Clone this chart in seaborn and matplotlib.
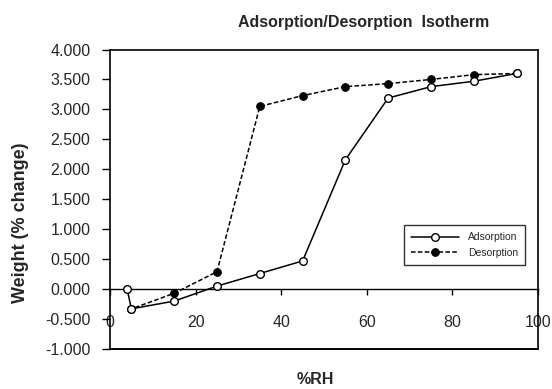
import matplotlib
matplotlib.use("Agg")
import matplotlib.pyplot as plt
import seaborn as sns
import pandas as pd
from matplotlib.ticker import FormatStrFormatter

# Moisture sorption data: %RH vs weight change
ads_rh = [4, 5, 15, 25, 35, 45, 55, 65, 75, 85, 95]
ads_wt = [0.00, -0.33, -0.20, 0.05, 0.26, 0.47, 2.16, 3.19, 3.38, 3.47, 3.60]
des_rh = [95, 85, 75, 65, 55, 45, 35, 25, 15, 5]
des_wt = [3.60, 3.58, 3.50, 3.43, 3.38, 3.23, 3.05, 0.29, -0.07, -0.33]

x_ticks = [0, 20, 40, 60, 80, 100]
y_ticks = [-1.0, -0.5, 0.0, 0.5, 1.0, 1.5, 2.0, 2.5, 3.0, 3.5, 4.0]

sns.set_style("white")
plt.rcParams["font.family"] = ["Liberation Sans", "DejaVu Sans"]
plt.rcParams["axes.unicode_minus"] = False

ads = pd.DataFrame({"rh": ads_rh, "wt": ads_wt})
des = pd.DataFrame({"rh": des_rh, "wt": des_wt})

fig = plt.figure(figsize=(5.52, 3.89), dpi=100)
ax = fig.add_axes([110 / 552, 1 - 349 / 389, 428 / 552, 299.5 / 389])

sns.lineplot(data=ads, x="rh", y="wt", sort=False, ax=ax, color="black",
             lw=1.1, marker="o", markersize=5.5, markerfacecolor="white",
             markeredgecolor="black", markeredgewidth=1.0,
             label="Adsorption", zorder=4)
sns.lineplot(data=des, x="rh", y="wt", sort=False, ax=ax, color="black",
             lw=1.1, marker="o", markersize=5.5, markerfacecolor="black",
             markeredgecolor="black", dashes=False, label="Desorption",
             zorder=3)
ax.lines[1].set_linestyle((0, (3, 1.5)))

ax.set_xlim(0, 100)
ax.set_ylim(-1, 4)
ax.set_xticks(x_ticks)
ax.set_yticks(y_ticks)
ax.yaxis.set_major_formatter(FormatStrFormatter("%.3f"))

# x axis runs through zero; the frame is closed at the bottom
ax.spines["bottom"].set_position(("data", 0))
for s in ax.spines.values():
    s.set_color("black")
    s.set_linewidth(1.2)
ax.spines["bottom"].set_linewidth(1.0)
ax.plot([0, 100], [-1, -1], color="black", lw=1.4, clip_on=False, zorder=5)

ax.tick_params(axis="y", direction="out", length=6, width=1, color="black",
               labelsize=11.5, pad=8, left=True)
ax.tick_params(axis="x", direction="out", length=4, width=1, color="black",
               labelsize=11.5, pad=15, bottom=True)

ax.set_xlabel("")
ax.set_ylabel("")

leg = ax.legend(loc="upper right", bbox_to_anchor=(0.97, 0.414),
                borderaxespad=0, fontsize=7.5, frameon=True, fancybox=False,
                edgecolor="black", handlelength=4.6, borderpad=0.7,
                labelspacing=0.55, handletextpad=0.8)
leg.get_frame().set_linewidth(1.0)

fig.text(364 / 552, 1 - 23 / 389, "Adsorption/Desorption  Isotherm",
         ha="center", va="center", fontsize=11.5, fontweight="bold")
fig.text(21 / 552, 1 - 223 / 389, "Weight (% change)", rotation=90,
         ha="center", va="center", fontsize=13, fontweight="bold")
fig.text(315 / 552, 1 - 380 / 389, "%RH", ha="center", va="center",
         fontsize=11.5, fontweight="bold")

fig.savefig("out.png", dpi=100)
